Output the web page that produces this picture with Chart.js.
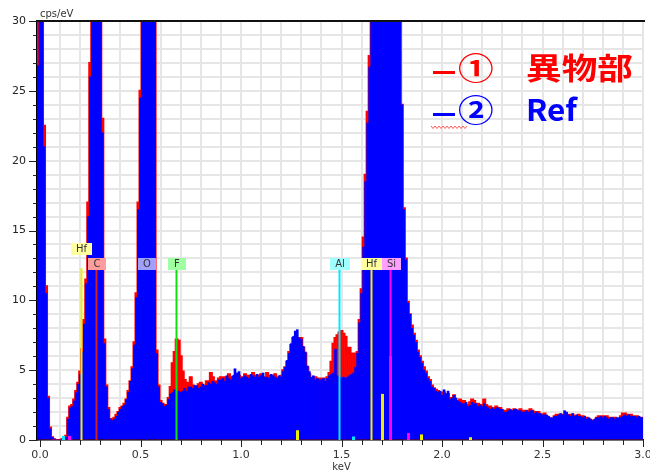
<!DOCTYPE html>
<html>
<head>
<meta charset="utf-8">
<script src="https://cdn.jsdelivr.net/npm/chart.js@4.4.1/dist/chart.umd.min.js"></script>
<style>
  html, body { margin: 0; padding: 0; background: #fff; overflow: hidden; }
  canvas { display: block; }
</style>
</head>
<body>
<canvas id="eds-chart" width="650" height="471"></canvas>
<script>
// 10 eV channels, the first one sits just left of 0 keV
const energyKeV = Array.from({ length: 302 }, (_, i) => (i - 1) / 100);

// ① 異物部 (foreign matter), cps/eV
const foreignCps = [60,
  80, 45, 22.5, 11, 3.1, 0.9, 0.2, 0.05, 0, 0,
  0, 0.05, 0, 0.3, 1.6, 2.4, 2.5, 2.9, 3.5, 4.1,
  4.9, 6.5, 8.6, 11.5, 17, 27, 40, 55, 60, 52,
  36, 23, 7.2, 3.9, 2.3, 1.5, 1.4, 1.6, 1.8, 2.0,
  2.3, 2.4, 2.6, 2.9, 3.5, 4.2, 5.2, 7.0, 10.5, 17,
  25, 36, 50, 62, 60, 50, 40, 31, 6.4, 3.9,
  2.8, 2.6, 2.4, 2.5, 3.0, 3.8, 5.5, 6.3, 7.2, 7.1,
  6.0, 4.9, 4.3, 4.0, 4.1, 4.5, 3.9, 3.7, 3.8, 4.0,
  4.1, 3.9, 3.8, 4.2, 3.9, 4.8, 4.5, 4.0, 4.2, 4.4,
  4.5, 4.3, 4.5, 4.4, 4.7, 4.5, 4.3, 4.6, 4.4, 4.6,
  4.5, 4.4, 4.7, 4.3, 4.6, 4.5, 4.8, 4.4, 4.6, 4.3,
  4.7, 4.5, 4.2, 4.8, 4.3, 4.6, 4.4, 4.7, 4.3, 4.5,
  4.6, 5.0, 5.2, 5.6, 6.3, 6.8, 7.3, 7.4, 7.3, 6.9,
  7.3, 6.6, 6.2, 5.2, 4.7, 4.4, 4.3, 4.5, 4.2, 4.4,
  4.1, 4.4, 4.3, 4.5, 4.8, 5.6, 6.9, 7.3, 7.5, 7.7,
  7.8, 7.6, 7.4, 6.2, 6.6, 6.0, 6.2, 5.3, 6.3, 8.6,
  10.8, 14.5, 19, 23.5, 27.5, 34, 40, 50, 60, 70,
  80, 90, 95, 90, 80, 70, 60, 50, 40, 32,
  24, 16.6, 13, 9.9, 9.0, 8.2, 7.6, 7.1, 6.4, 6.0,
  5.6, 5.2, 4.9, 4.5, 4.3, 3.9, 3.7, 3.6, 3.5, 3.4,
  3.3, 3.4, 3.2, 3.3, 3.0, 2.9, 3.2, 2.8, 2.7, 2.9,
  2.6, 2.8, 2.5, 2.4, 2.7, 2.9, 2.8, 2.5, 2.6, 2.5,
  2.3, 2.9, 2.5, 2.3, 2.4, 2.2, 2.3, 2.4, 2.2, 2.3,
  2.1, 1.9, 2.1, 2.2, 2.1, 2.0, 2.2, 2.1, 2.0, 2.2,
  2.0, 2.1, 1.9, 2.1, 2.2, 2.1, 2.0, 1.9, 2.0, 1.8,
  1.8, 1.9, 1.7, 1.6, 1.4, 1.5, 1.7, 1.8, 1.8, 1.7,
  1.8, 1.7, 1.8, 1.7, 1.8, 1.8, 1.6, 1.7, 1.8, 1.6,
  1.7, 1.5, 1.6, 1.5, 1.4, 1.2, 1.4, 1.6, 1.7, 1.6,
  1.7, 1.6, 1.7, 1.6, 1.5, 1.6, 1.6, 1.5, 1.4, 1.7,
  1.9, 1.9, 1.8, 1.7, 1.8, 1.7, 1.6, 1.7, 1.6, 1.6,
  1.6];

// ② Ref
const refCps = [26.8,
  80, 45, 21, 10.5, 3.0, 0.8, 0.2, 0.05, 0, 0,
  0, 0, 0.05, 0.2, 1.5, 2.3, 2.4, 2.8, 3.4, 4.0,
  4.7, 6.3, 8.3, 11.2, 16, 26, 40, 55, 60, 52,
  35, 22, 6.9, 3.8, 2.2, 1.5, 1.4, 1.5, 1.7, 2.0,
  2.2, 2.4, 2.5, 2.9, 3.4, 4.2, 5.1, 6.8, 10.2, 16.5,
  24.5, 36, 50, 62, 60, 50, 40, 31, 6.2, 3.8,
  2.7, 2.6, 2.4, 2.5, 2.9, 3.3, 3.4, 3.6, 3.2, 3.5,
  3.4, 3.5, 3.7, 3.5, 3.8, 3.8, 3.7, 3.9, 3.9, 3.7,
  3.8, 4.0, 3.9, 3.9, 4.1, 4.0, 4.2, 4.1, 4.0, 4.3,
  4.3, 4.4, 4.2, 4.6, 4.4, 4.3, 4.6, 5.1, 4.8, 4.9,
  4.4, 4.5, 4.6, 4.5, 4.4, 4.7, 4.6, 4.5, 4.7, 4.5,
  4.6, 4.8, 4.5, 4.5, 4.4, 4.7, 4.6, 4.5, 4.4, 4.6,
  4.5, 4.9, 5.2, 5.7, 6.2, 6.9, 7.4, 7.8, 7.9, 7.3,
  7.2, 6.7, 6.3, 5.3, 4.9, 4.5, 4.6, 4.3, 4.4, 4.3,
  4.3, 4.4, 4.2, 4.4, 4.6, 4.7, 4.8, 6.5, 4.6, 4.5,
  4.4, 4.5, 4.4, 4.5, 4.6, 4.7, 4.8, 5.2, 6.2, 8.4,
  10.5, 13.8, 18.5, 22.7, 26.7, 33, 40, 50, 60, 70,
  80, 90, 95, 90, 80, 70, 60, 50, 40, 32,
  24, 16.5, 12.9, 9.8, 9.0, 8.0, 7.5, 7.0, 6.3, 5.9,
  5.5, 5.0, 4.8, 4.4, 4.2, 3.8, 3.7, 3.5, 3.4, 3.5,
  3.2, 3.6, 3.3, 3.5, 2.9, 3.0, 3.2, 3.0, 2.8, 2.7,
  2.6, 2.6, 2.7, 2.4, 2.5, 2.7, 2.6, 2.6, 2.4, 2.5,
  2.4, 2.6, 2.4, 2.3, 2.2, 2.3, 2.2, 2.3, 2.3, 2.2,
  2.2, 2.0, 2.0, 2.1, 2.2, 2.1, 2.2, 2.2, 2.1, 2.1,
  2.0, 2.0, 2.1, 2.0, 2.1, 2.1, 1.9, 2.0, 1.9, 1.9,
  1.8, 1.8, 1.8, 1.7, 1.6, 1.6, 1.7, 1.7, 1.8, 1.9,
  1.8, 2.1, 2.0, 1.8, 1.7, 1.9, 1.7, 1.8, 1.7, 1.7,
  1.6, 1.7, 1.5, 1.6, 1.5, 1.4, 1.5, 1.6, 1.6, 1.7,
  1.6, 1.7, 1.6, 1.5, 1.6, 1.6, 1.5, 1.6, 1.6, 1.6,
  1.7, 1.8, 1.7, 1.8, 1.7, 1.7, 1.7, 1.6, 1.7, 1.6,
  1.6];

const xTicks = Array.from({ length: 31 }, (_, i) => i / 10);
const yTicks = Array.from({ length: 31 }, (_, i) => i);

// element markers (KLM lines)
const elementNames = ['Hf', 'C', 'O', 'F', 'Al', 'Hf', 'Si'];
const elementKeV = [0.204, 0.277, 0.525, 0.677, 1.486, 1.645, 1.740];
// small secondary line bars at the base
const minorNames = ['Al', 'Si', 'Hf', 'Al', 'Hf', 'Si', 'Si', 'Hf', 'Hf'];
const minorKeV = [0.114, 0.144, 1.277, 1.557, 1.700, 1.740, 1.830, 1.894, 2.139];
const minorCps = [0.3, 0.3, 0.7, 0.25, 3.3, 6.0, 0.5, 0.4, 0.2];

const legendMarks = ['①', '②'];
const legendNames = ['異物部', 'Ref'];

const elementStyle = {
  Hf: { line: '#eeee00', box: '#ffffa0' },
  C:  { line: '#d02020', box: '#ff9c9c' },
  O:  { line: '#0000ff', box: '#a0a0ff' },
  F:  { line: '#10e010', box: '#a0ffa0' },
  Al: { line: '#00e8ff', box: '#a0ffff' },
  Si: { line: '#ff00ff', box: '#ffa0ff' }
};
const seriesColors = ['#ff0000', '#0000ff'];

const markers = {
  id: 'markers',
  afterDatasetsDraw(chart) {
    const { ctx, scales: { x, y } } = chart;
    const y0 = y.getPixelForValue(0);
    ctx.save();
    minorKeV.forEach((e, i) => {
      const px = Math.round(x.getPixelForValue(e)) + 0.5;
      ctx.strokeStyle = elementStyle[minorNames[i]].line;
      ctx.lineWidth = 3;
      ctx.beginPath();
      ctx.moveTo(px, y0);
      ctx.lineTo(px, y.getPixelForValue(minorCps[i]));
      ctx.stroke();
    });
    ctx.font = '10px "DejaVu Sans"';
    ctx.textAlign = 'center';
    ctx.textBaseline = 'middle';
    const boxTop = Math.round(y.getPixelForValue(13));
    const boxWidth = name => Math.max(18, Math.round(ctx.measureText(name).width) + 10);
    let prevRight = -Infinity;
    elementKeV.forEach((e, i) => {
      const name = elementNames[i];
      const st = elementStyle[name];
      const px = Math.round(x.getPixelForValue(e)) + 0.5;
      const w = boxWidth(name);
      let left = Math.round(px - w / 2);
      let row = 0;
      // a box that would sit on its neighbour goes up one row
      if (i + 1 < elementKeV.length) {
        const nextW = boxWidth(elementNames[i + 1]);
        const nextLeft = x.getPixelForValue(elementKeV[i + 1]) - nextW / 2;
        if (nextLeft < left + w - 4) row = 1;
      }
      if (row === 0 && left < prevRight) left = prevRight;
      ctx.strokeStyle = st.line;
      ctx.lineWidth = 2;
      ctx.beginPath();
      ctx.moveTo(px, y0);
      ctx.lineTo(px, y.getPixelForValue(12.3));
      ctx.stroke();
      const top = boxTop - row * 15;
      ctx.fillStyle = st.box;
      ctx.fillRect(left, top, w, 12);
      ctx.fillStyle = '#333';
      ctx.fillText(name, left + w / 2, top + 6.5);
      if (row === 0) prevRight = left + w;
    });
    ctx.restore();
  }
};

const decorations = {
  id: 'decorations',
  afterDraw(chart) {
    const { ctx, chartArea: a, scales: { x, y } } = chart;
    ctx.save();
    // frame top
    ctx.strokeStyle = '#111';
    ctx.lineWidth = 2;
    ctx.beginPath();
    ctx.moveTo(a.left, a.top);
    ctx.lineTo(a.right + 2, a.top);
    ctx.stroke();
    // tick marks, long ones on the labelled values
    ctx.lineWidth = 1;
    ctx.strokeStyle = '#222';
    yTicks.forEach(v => {
      const py = Math.round(y.getPixelForValue(v)) + 0.5;
      const len = v % 5 === 0 ? 8 : 4;
      ctx.beginPath();
      ctx.moveTo(a.left - len, py);
      ctx.lineTo(a.left, py);
      ctx.stroke();
    });
    xTicks.forEach((v, i) => {
      const px = Math.round(x.getPixelForValue(v)) + 0.5;
      const len = i % 5 === 0 ? 7 : 5;
      ctx.beginPath();
      ctx.moveTo(px, a.bottom);
      ctx.lineTo(px, a.bottom + len);
      ctx.stroke();
    });
    // axis units
    ctx.fillStyle = '#333';
    ctx.font = '10px "DejaVu Sans"';
    ctx.textAlign = 'left';
    ctx.textBaseline = 'alphabetic';
    ctx.fillText('cps/eV', 40, 17);
    ctx.textAlign = 'center';
    ctx.textBaseline = 'top';
    ctx.fillText('keV', x.getPixelForValue(1.5), 462);

    // legend
    const rows = [68, 110];
    ctx.font = 'bold 30px "Noto Sans CJK JP"';
    const sx = 107 / ctx.measureText(legendNames[0]).width;
    legendNames.forEach((name, i) => {
      const cy = rows[i];
      ctx.fillStyle = seriesColors[i];
      ctx.fillRect(433, cy + 3, 22, 3);
      ctx.save();
      ctx.translate(458, cy);
      ctx.scale(sx, 1);
      ctx.textAlign = 'left';
      ctx.textBaseline = 'middle';
      ctx.fillText(legendMarks[i], 0, 0);
      ctx.restore();
      ctx.save();
      ctx.translate(526, cy);
      ctx.scale(i === 0 ? sx : 1.05, 1);
      ctx.textAlign = 'left';
      ctx.textBaseline = 'middle';
      ctx.fillText(name, 0, 0);
      ctx.restore();
    });
    // spell-check squiggle under the second entry
    ctx.strokeStyle = '#ff5a5a';
    ctx.lineWidth = 1;
    ctx.beginPath();
    for (let px = 431, k = 0; px <= 467; px += 2, k++) {
      const py = 127 + (k % 2 ? 1.5 : -1);
      if (k === 0) ctx.moveTo(px, py); else ctx.lineTo(px, py);
    }
    ctx.stroke();
    ctx.restore();
  }
};

const ctx = document.getElementById('eds-chart').getContext('2d');
const edsChart = new Chart(ctx, {
  type: 'bar',
  plugins: [markers, decorations],
  data: {
    datasets: [{
      // drawn last, on top
      label: '② Ref',
      data: refCps.map((v, i) => ({ x: energyKeV[i], y: v })),
      grouped: false,
      barPercentage: 1,
      categoryPercentage: 1,
      backgroundColor: seriesColors[1],
      borderWidth: 0
    }, {
      // thin red edge that peeks out around the blue
      type: 'line',
      label: '① 異物部 edge',
      data: foreignCps.map((v, i) => ({ x: energyKeV[i], y: v })),
      stepped: 'middle',
      fill: false,
      borderColor: seriesColors[0],
      borderWidth: 2,
      pointRadius: 0
    }, {
      label: '① 異物部',
      data: foreignCps.map((v, i) => ({ x: energyKeV[i], y: v })),
      grouped: false,
      barPercentage: 1,
      categoryPercentage: 1,
      backgroundColor: seriesColors[0],
      borderWidth: 0
    }]
  },
  options: {
    responsive: false,
    devicePixelRatio: 1,
    animation: false,
    events: [],
    layout: { padding: { top: 21, right: 7, left: 0, bottom: 0 } },
    plugins: {
      legend: { display: false },
      tooltip: { enabled: false }
    },
    scales: {
      x: {
        type: 'linear',
        offset: false,
        min: -0.015,
        max: 3.0,
        afterBuildTicks: axis => { axis.ticks = xTicks.map(v => ({ value: v })); },
        afterFit: axis => { axis.height = 31; axis.paddingLeft = 0; axis.paddingRight = 0; },
        ticks: {
          autoSkip: false,
          maxRotation: 0,
          padding: 2,
          color: '#333',
          font: { family: 'DejaVu Sans', size: 11 },
          callback: v => (Math.abs(v * 2 - Math.round(v * 2)) < 1e-6 ? v.toFixed(1) : '')
        },
        grid: { offset: false, color: '#e6e6e6', lineWidth: 2, tickLength: 7, tickColor: 'rgba(0,0,0,0)' },
        border: { color: '#000', width: 1.5 }
      },
      y: {
        min: 0,
        max: 30,
        afterBuildTicks: axis => { axis.ticks = yTicks.map(v => ({ value: v })); },
        afterFit: axis => { axis.width = 37; },
        ticks: {
          autoSkip: false,
          padding: 3,
          color: '#222',
          font: { family: 'DejaVu Sans', size: 11 },
          callback: v => (v % 5 === 0 ? String(v) : '')
        },
        grid: { color: '#e6e6e6', lineWidth: 2, tickLength: 8, tickColor: 'rgba(0,0,0,0)' },
        border: { color: '#000', width: 1.5 }
      }
    }
  }
});
</script>
</body>
</html>
